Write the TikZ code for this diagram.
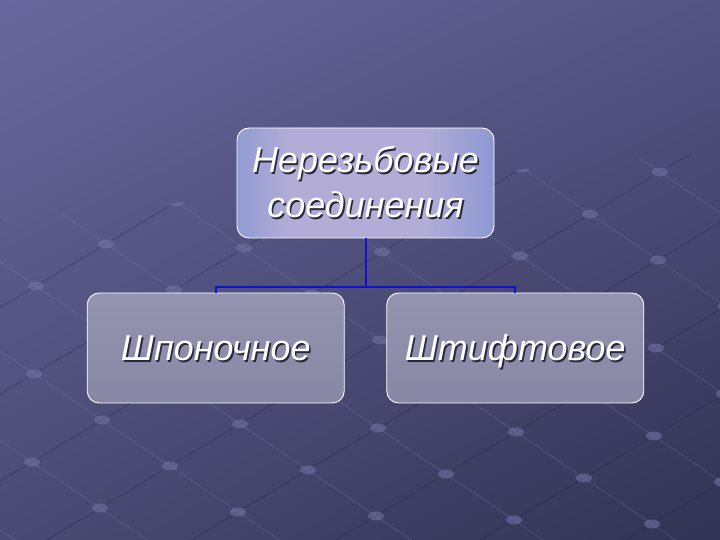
\documentclass[tikz,border=0pt]{standalone}
\usepackage{fontspec}
\setmainfont{Liberation Sans}
\usetikzlibrary{trees,shadings}
\definecolor{bgUL}{RGB}{104,104,158}
\definecolor{bgUR}{RGB}{84,84,132}
\definecolor{bgLL}{RGB}{74,74,116}
\definecolor{bgLR}{RGB}{50,50,84}
\definecolor{linkblue}{RGB}{18,18,205}
\definecolor{topblue}{RGB}{96,130,208}
\definecolor{toplilac}{RGB}{178,172,214}
\definecolor{leafgray}{RGB}{148,148,176}
\definecolor{leaflight}{RGB}{178,178,202}
\definecolor{leafdark}{RGB}{136,136,166}
\definecolor{txtshadow}{RGB}{40,40,62}
\pgfdeclarehorizontalshading{rootshade}{100bp}{color(0bp)=(topblue); color(10bp)=(topblue);
  color(35bp)=(toplilac); color(62bp)=(toplilac); color(90bp)=(topblue); color(100bp)=(topblue)}
\tikzstyle{gridlight}=[draw={rgb,255:red,150;green,150;blue,200}, line width=0.9pt, opacity=0.2]
\tikzstyle{gridshadow}=[draw={rgb,255:red,30;green,30;blue,55}, line width=0.9pt, opacity=0.3]
\tikzstyle{griddot}=[fill={rgb,255:red,118;green,118;blue,168}, opacity=0.55]
\tikzstyle{box}=[draw=white, line width=0.9pt, rounded corners=12pt, minimum width=257pt,
  minimum height=110pt, inner sep=0pt, align=center, text=white,
  font=\fontsize{36}{45}\selectfont\itshape]
\tikzstyle{root}=[box, shading=rootshade]
\tikzstyle{leaf}=[box, top color=leafgray, middle color=leaflight, bottom color=leafdark,
  text height=26pt, text depth=0pt]
\newcommand{\shadowed}[1]{\leavevmode\rlap{\kern1.6pt\raisebox{-1.6pt}{\color{txtshadow}#1}}#1}

\begin{document}
\begin{tikzpicture}[x=1pt,y=1pt,
    level distance=165pt, sibling distance=299.5pt,
    edge from parent/.style={draw=linkblue, line width=2pt},
    edge from parent path={(\tikzparentnode.south) -- ++(0,-49) -| (\tikzchildnode.north)}]
  % background with grid
  \shade[upper left=bgUL, upper right=bgUR, lower left=bgLL, lower right=bgLR]
    (0,0) rectangle (720,540);
  \begin{scope}
    \clip (0,320) -- (720,390) -- (720,0) -- (0,0) -- cycle;
    \foreach \j in {-8,...,8}
      \draw[gridshadow] ({100-70*6+68*\j},{32-42*6-46*\j}) -- ({100+70*14+68*\j},{32+42*14-46*\j});
    \foreach \i in {-6,...,14}
      \draw[gridlight] ({100+70*\i-68*8},{32+42*\i+46*8}) -- ({100+70*\i+68*8},{32+42*\i-46*8});
    \foreach \i in {-6,...,14}
      \foreach \j in {-8,...,8}
        \fill[griddot] ({100+70*\i+68*\j},{32+42*\i-46*\j}) ellipse (8 and 4.5);
  \end{scope}
  \useasboundingbox (0,0) rectangle (720,540);
  % tree
  \node[root] (joint) at (365.5,357) {\shadowed{Нерезьбовые}\\\shadowed{соединения}}
    child {node[leaf] (key) {\shadowed{Шпоночное}}}
    child {node[leaf] (pin) {\shadowed{Штифтовое}}};
\end{tikzpicture}
\end{document}
